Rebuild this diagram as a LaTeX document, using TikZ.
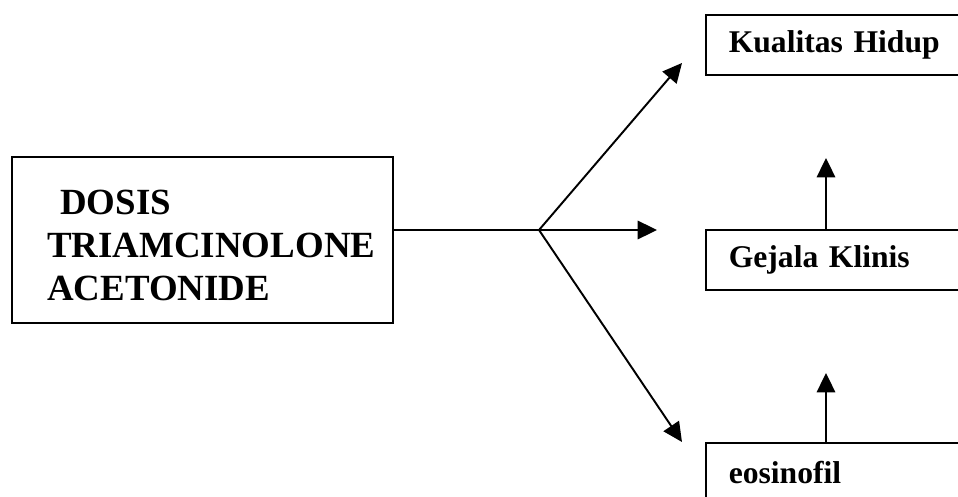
\documentclass[tikz,border=0pt]{standalone}
\usepackage{fontspec}
\setmainfont{Liberation Serif}
\usepackage{tikz}
\usetikzlibrary{arrows.meta}

\tikzset{
  dosebox/.style={draw, line width=0.9pt, anchor=north west, minimum width=7.62cm, minimum height=3.32cm,
    text width=6.2cm, inner xsep=0.7cm, align=left, font=\bfseries\fontsize{21}{24.4}\selectfont},
  outbox/.style={draw, line width=0.9pt, anchor=north west, minimum height=1.2cm,
    text width=5cm, inner xsep=0.46cm, align=left, font=\bfseries\fontsize{18}{22}\selectfont},
  link/.style={line width=1.1pt, -{Triangle[length=11pt, width=10.5pt]}}
}

\begin{document}
\begin{tikzpicture}[x=0.02cm, y=-0.02cm]
% picture frame (pixels of the reference)
\useasboundingbox (0,0) rectangle (958,497);
\clip (0,0) rectangle (958,497);

% draw boxes
\node (dose) [dosebox] at (11,156) {\rule{0pt}{20pt}\hspace*{0.35em}DOSIS\\TRIAMCINOLONE\\ACETONIDE};
\node (qol) [outbox] at (705,14) {Kualitas Hidup};
\node (gejala) [outbox] at (705,229) {Gejala Klinis};
\node (eos) [outbox] at (705,442) {eosinofil};

% draw branch point and arrow ends
\coordinate (split) at (539,230);
\coordinate (tipqol) at (682,63);
\coordinate (tipgej) at (657,230);
\coordinate (tipeos) at (682,442);
\coordinate (upgej) at (826,158);
\coordinate (upeos) at (826,373);

% draw arrows
\draw[line width=1.1pt] (dose.east |- split) -- (split);
\draw[link] (split) -- (tipqol);
\draw[link] (split) -- (tipgej);
\draw[link] (split) -- (tipeos);
\draw[link] (gejala.north west -| upgej) -- (upgej);
\draw[link] (eos.north west -| upeos) -- (upeos);

\end{tikzpicture}
\end{document}
